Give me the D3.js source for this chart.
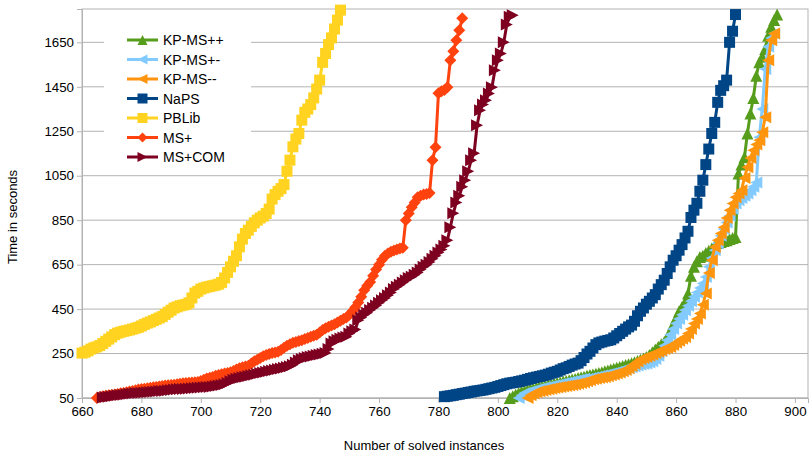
<!doctype html>
<meta charset="utf-8">
<style>
body { margin: 0; background: #fff; }
text { font-family: "Liberation Sans", Arial, sans-serif; fill: #000; }
</style>
<script src="https://d3js.org/d3.v7.min.js"></script>
<body>
<svg id="chart"></svg>
<script>
// series, in drawing order (later ones on top)
var names  = ["KP-MS++", "KP-MS+-", "KP-MS--", "NaPS", "PBLib", "MS+", "MS+COM"];
var colors = ["#579d1c", "#83caff", "#ff950e", "#004586", "#ffd320", "#ff420e", "#7e0021"];
var shapes = ["up", "left", "left", "square", "square", "diamond", "right"];
// first visible number of solved instances for each series
var starts = [804, 807, 810, 782, 660, 665, 667];

// time (s) of each successive solved instance
var kpmsPP = [50,58,66,72,78,82,
  85,89,92,96,99,102,105,108,111,114,
  117,120,124,127,130,133,136,140,143,146,
  150,153,156,159,162,166,170,174,178,182,
  186,190,194,198,202,206,211,216,222,228,
  234,244,256,268,280,292,302,320,350,380,
  410,440,460,480,520,600,640,665,684,690,
  702,712,722,735,747,752,756,760,765,770,
  774,1060,1100,1133,1240,1330,1400,1500,1560,1585,
  1620,1680,1720,1750,1775];
var kpmsPM = [50,62,72,
  76,80,84,88,92,95,98,101,104,107,
  110,113,116,119,122,125,128,131,134,137,
  136,139,142,145,148,151,154,157,160,164,
  168,172,176,180,184,188,192,196,200,203,
  205,210,215,225,240,260,285,310,335,360,
  385,405,425,445,465,485,505,525,545,565,
  594,640,680,715,745,780,810,840,870,900,
  925,940,950,960,970,985,1000,1020,1223,1350,
  1530,1630,1670,1690];
var kpmsMM = [50,62,70,76,80,83,86,89,92,95,
  97,100,102,104,106,108,111,114,117,121,
  125,130,134,137,140,142,144,148,152,156,
  160,165,170,176,184,194,204,214,224,230,
  234,240,246,252,258,264,270,275,279,288,
  298,308,316,324,340,360,385,405,430,470,
  520,612,670,729,760,790,818,860,895,925,
  953,970,985,1040,1088,1130,1164,1190,1209,1245,
  1313,1569,1659,1690];
var naps = [56,58,60,62,65,67,70,72,
  75,77,80,82,84,86,89,92,95,98,
  102,106,110,114,117,119,121,124,127,130,
  134,138,141,144,147,150,153,157,162,166,
  170,176,182,186,192,198,203,207,218,232,
  248,260,275,290,298,302,306,309,312,320,
  330,340,350,360,370,378,395,420,440,455,
  472,485,500,515,540,560,580,610,640,670,
  690,715,740,770,800,862,895,926,980,1030,
  1100,1170,1240,1290,1380,1434,1455,1480,1650,1700,1775];
var pblib = [252,256,262,270,276,280,286,295,305,315,
  325,335,342,346,350,353,356,360,364,368,
  374,381,387,392,398,404,410,416,426,436,
  445,455,460,465,468,471,478,500,522,530,
  540,545,549,552,555,558,562,570,590,615,
  640,665,690,730,765,790,805,822,838,850,
  860,868,880,900,945,965,980,992,1010,1070,
  1120,1180,1215,1240,1300,1335,1350,1370,1400,1440,
  1480,1560,1600,1640,1670,1710,1750,1795];
var msPlus = [50,55,58,60,62,
  64,66,68,71,73,76,79,82,85,88,
  90,92,94,96,98,100,102,104,106,107,
  108,110,112,114,116,118,119,120,121,122,
  126,132,138,141,145,150,154,157,160,163,
  166,172,178,184,188,192,195,205,215,222,
  230,238,244,248,252,255,258,266,276,285,
  292,298,302,306,310,315,320,325,330,334,
  345,356,364,370,376,382,390,398,405,412,
  425,440,458,480,505,535,555,572,600,628,
  650,672,690,700,708,714,718,722,726,850,
  880,908,930,953,960,965,968,972,1120,1178,
  1421,1430,1436,1448,1569,1610,1659,1704,1758];
var msCom = [52,54,56,
  58,60,62,64,65,67,69,70,72,73,
  74,75,76,77,78,79,81,82,83,85,
  86,88,89,90,91,92,93,94,95,96,
  97,98,99,100,102,104,106,108,112,118,
  125,132,137,140,143,146,149,152,155,159,
  162,165,168,171,174,177,180,183,186,189,
  193,200,210,220,226,230,234,237,240,243,
  246,249,252,270,295,305,312,318,322,326,
  340,350,358,400,412,424,434,446,456,466,
  478,490,500,512,525,540,550,560,570,580,
  590,596,605,615,628,640,650,662,676,690,
  705,718,735,760,818,881,930,960,1000,1030,
  1070,1120,1151,1277,1344,1370,1390,1420,1448,1524,
  1570,1600,1650,1730,1765,1772];
var seriesTimes = [kpmsPP, kpmsPM, kpmsMM, naps, pblib, msPlus, msCom];

var xTicks = d3.range(660, 901, 20);
var yTicks = d3.range(50, 1651, 200);

var width = 811, height = 453;
var plotLeft = 82, plotRight = 808, plotTop = 9, plotBottom = 398;

var svg = d3.select("#chart").attr("width", width).attr("height", height);

var x = d3.scaleLinear().domain([660, 904.4]).range([plotLeft, plotRight]);
var y = d3.scaleLinear().domain([50, 1800]).range([plotBottom, plotTop]);

var grid = "#b3b3b3";

// horizontal gridlines
svg.append("g").selectAll("line").data(yTicks).enter().append("line")
  .attr("x1", plotLeft).attr("x2", plotRight)
  .attr("y1", function(d){ return y(d); }).attr("y2", function(d){ return y(d); })
  .attr("stroke", grid).attr("stroke-width", 1);

// plot frame
svg.append("rect").attr("x", plotLeft).attr("y", plotTop)
  .attr("width", plotRight - plotLeft).attr("height", plotBottom - plotTop)
  .attr("fill", "none").attr("stroke", grid).attr("stroke-width", 1);

// axes
var xAxis = svg.append("g").attr("transform", "translate(0," + plotBottom + ")")
  .call(d3.axisBottom(x).tickValues(xTicks).tickSize(5).tickPadding(4).tickFormat(d3.format("d")));
var yAxis = svg.append("g").attr("transform", "translate(" + plotLeft + ",0)")
  .call(d3.axisLeft(y).tickValues(yTicks).tickSize(5).tickPadding(3).tickFormat(d3.format("d")));
[xAxis, yAxis].forEach(function(a){
  a.select(".domain").attr("stroke", grid);
  a.selectAll(".tick line").attr("stroke", grid);
  a.selectAll(".tick text").attr("font-size", "13.3px")
    .attr("font-family", "'Liberation Sans', Arial, sans-serif").attr("fill", "#000");
});

// axis titles
svg.append("text").attr("x", 424).attr("y", 450).attr("text-anchor", "middle")
  .attr("font-size", "13px").text("Number of solved instances");
svg.append("text").attr("transform", "translate(17,217) rotate(-90)")
  .attr("text-anchor", "middle").attr("font-size", "13px").text("Time in seconds");

// marker shapes
function marker(shape, s) {
  if (shape === "square") return "M" + (-s) + "," + (-s) + "h" + 2*s + "v" + 2*s + "h" + (-2*s) + "Z";
  if (shape === "diamond") return "M0," + (-s) + "L" + s + ",0L0," + s + "L" + (-s) + ",0Z";
  if (shape === "up") return "M0," + (-s) + "L" + s + "," + s + "L" + (-s) + "," + s + "Z";
  if (shape === "left") return "M" + (-s) + ",0L" + s + "," + (-s) + "L" + s + "," + s + "Z";
  return "M" + s + ",0L" + (-s) + "," + (-s) + "L" + (-s) + "," + s + "Z";
}
var markerSize = { square: 5.5, diamond: 6, up: 6, left: 6, right: 6 };

var line = d3.line().x(function(d){ return x(d.n); }).y(function(d){ return y(d.t); });

names.forEach(function(name, k) {
  var pts = seriesTimes[k].map(function(t, i){ return { n: starts[k] + i, t: t }; });
  var g = svg.append("g").attr("class", "series");
  g.append("path").datum(pts).attr("d", line)
    .attr("fill", "none").attr("stroke", colors[k]).attr("stroke-width", 3)
    .attr("stroke-linejoin", "round");
  g.selectAll("path.pt").data(pts).enter().append("path").attr("class", "pt")
    .attr("transform", function(d){ return "translate(" + x(d.n) + "," + y(d.t) + ")"; })
    .attr("d", marker(shapes[k], markerSize[shapes[k]]))
    .attr("fill", colors[k]);
});

// legend
var legend = svg.append("g");
legend.append("rect").attr("x", 104).attr("y", 27).attr("width", 147).attr("height", 142).attr("fill", "#fff");
names.forEach(function(name, k) {
  var ly = 40 + k * 19.5;
  legend.append("line").attr("x1", 127).attr("x2", 158).attr("y1", ly).attr("y2", ly)
    .attr("stroke", colors[k]).attr("stroke-width", 3);
  legend.append("path").attr("transform", "translate(142.5," + ly + ")")
    .attr("d", marker(shapes[k], 5)).attr("fill", colors[k]);
  legend.append("text").attr("x", 163).attr("y", ly).attr("dy", "0.36em")
    .attr("font-size", "14px").text(name);
});
</script>
</body>
